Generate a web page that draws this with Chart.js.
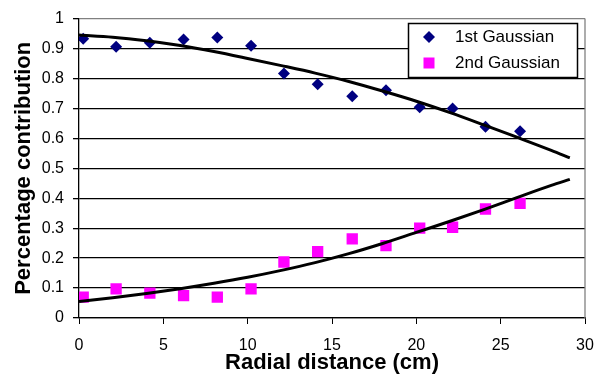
<!DOCTYPE html>
<html>
<head>
<meta charset="utf-8">
<script src="https://cdn.jsdelivr.net/npm/chart.js@4/dist/chart.umd.min.js"></script>
<style>
  html, body { margin: 0; padding: 0; background: #ffffff; }
  #wrap { width: 608px; height: 376px; }
</style>
</head>
<body>
<div id="wrap"><canvas id="c" width="608" height="376"></canvas></div>
<script>
// ---- data ----
const seriesNames = ['1st Gaussian', '2nd Gaussian'];
const radialX = [0.25, 2.2, 4.2, 6.2, 8.2, 10.2, 12.15, 14.15, 16.2, 18.2, 20.2, 22.15, 24.1, 26.15];
const gauss1 = [0.933, 0.906, 0.919, 0.930, 0.937, 0.909, 0.817, 0.781, 0.741, 0.761, 0.704, 0.700, 0.639, 0.624];
const gauss2 = [0.070, 0.097, 0.083, 0.075, 0.070, 0.097, 0.187, 0.222, 0.264, 0.242, 0.300, 0.303, 0.364, 0.383];
const fitX = [0, 2, 4, 6, 8, 10, 12, 14, 16, 18, 20, 22, 24, 26, 28, 29.1];
const fit1 = [0.945, 0.938, 0.926, 0.910, 0.890, 0.867, 0.843, 0.818, 0.790, 0.758, 0.724, 0.686, 0.645, 0.603, 0.560, 0.535];
const fit2 = [0.055, 0.068, 0.082, 0.098, 0.116, 0.136, 0.159, 0.185, 0.215, 0.249, 0.286, 0.323, 0.362, 0.403, 0.443, 0.463];
const xTickLabels = ['0', '5', '10', '15', '20', '25', '30'];
const yTickLabels = ['0', '0.1', '0.2', '0.3', '0.4', '0.5', '0.6', '0.7', '0.8', '0.9', '1'];
const xTitle = 'Radial distance (cm)';
const yTitle = 'Percentage contribution';

const FONT = '"Liberation Sans", Arial, sans-serif';
const toPts = (xs, ys) => xs.map((x, i) => ({ x: x, y: ys[i] }));

const legendBox = {
  id: 'legendBox',
  afterDraw(chart) {
    const ctx = chart.ctx;
    ctx.save();
    const x0 = 408, y0 = 23, w = 169, h = 54;
    ctx.fillStyle = '#ffffff';
    ctx.fillRect(x0, y0, w, h);
    ctx.strokeStyle = '#000000';
    ctx.lineWidth = 1.5;
    ctx.strokeRect(x0 + 0.5, y0 + 0.5, w, h);
    // diamond
    ctx.fillStyle = '#000080';
    const dx = 429, dy = 37, r = 6;
    ctx.beginPath();
    ctx.moveTo(dx - r, dy); ctx.lineTo(dx, dy - r); ctx.lineTo(dx + r, dy); ctx.lineTo(dx, dy + r);
    ctx.closePath(); ctx.fill();
    // square
    ctx.fillStyle = '#ff00ff';
    ctx.fillRect(429 - 5.5, 63 - 5.5, 11, 11);
    ctx.fillStyle = '#000000';
    ctx.font = '17px ' + FONT;
    ctx.textBaseline = 'middle';
    ctx.textAlign = 'left';
    ctx.fillText(seriesNames[0], 455, 37);
    ctx.fillText(seriesNames[1], 455, 63);
    ctx.restore();
  }
};

const plotBorder = {
  id: 'plotBorder',
  beforeDatasetsDraw(chart) {
    const a = chart.chartArea, ctx = chart.ctx;
    ctx.save();
    ctx.strokeStyle = '#808080';
    ctx.lineWidth = 1.3;
    ctx.beginPath();
    ctx.moveTo(a.right, a.top);
    ctx.lineTo(a.right, a.bottom);
    ctx.stroke();
    ctx.restore();
  }
};

new Chart(document.getElementById('c'), {
  type: 'scatter',
  data: {
    datasets: [
      { label: seriesNames[0], data: toPts(radialX, gauss1), pointStyle: 'rectRot', pointRadius: 6,
        backgroundColor: '#000080', borderWidth: 0, showLine: false, order: 2 },
      { label: seriesNames[1], data: toPts(radialX, gauss2), pointStyle: 'rect', pointRadius: 8,
        backgroundColor: '#ff00ff', borderWidth: 0, showLine: false, order: 2 },
      { label: 'fit1', data: toPts(fitX, fit1), showLine: true, pointRadius: 0, borderColor: '#000000',
        borderWidth: 3, tension: 0.4, cubicInterpolationMode: 'monotone', fill: false, order: 1 },
      { label: 'fit2', data: toPts(fitX, fit2), showLine: true, pointRadius: 0, borderColor: '#000000',
        borderWidth: 3, tension: 0.4, cubicInterpolationMode: 'monotone', fill: false, order: 1 }
    ]
  },
  options: {
    responsive: false,
    animation: false,
    events: [],
    layout: { padding: { left: 0, right: 23, top: 18, bottom: 0 } },
    plugins: { legend: { display: false }, tooltip: { enabled: false } },
    scales: {
      x: {
        type: 'linear', min: 0, max: 30,
        afterFit(s) { s.height = 58; },
        ticks: { stepSize: 5, color: '#000', font: { family: FONT, size: 16 }, padding: 12,
                 maxRotation: 0, callback: (v, i) => xTickLabels[i] },
        grid: { drawOnChartArea: false, drawTicks: true, tickLength: 6, color: '#000', tickColor: '#000' },
        border: { color: '#000', width: 1.3 },
        title: { display: true, text: xTitle, color: '#000', font: { family: FONT, size: 22, weight: 'bold' },
                 padding: { top: 0, bottom: 0 } }
      },
      y: {
        min: 0, max: 1,
        afterFit(s) { s.width = 79; },
        ticks: { stepSize: 0.1, color: '#000', font: { family: FONT, size: 16 }, padding: 9,
                 callback: (v, i) => yTickLabels[i] },
        grid: { drawTicks: true, tickLength: 6, lineWidth: 1.3,
                color: (c) => (c.tick && c.tick.value >= 0.999 ? '#808080' : '#000'), tickColor: '#000' },
        border: { color: '#000', width: 1.3 },
        title: { display: true, text: yTitle, color: '#000', font: { family: FONT, size: 22, weight: 'bold' },
                 padding: { top: 11, bottom: 0 } }
      }
    }
  },
  plugins: [plotBorder, legendBox]
});
</script>
</body>
</html>
